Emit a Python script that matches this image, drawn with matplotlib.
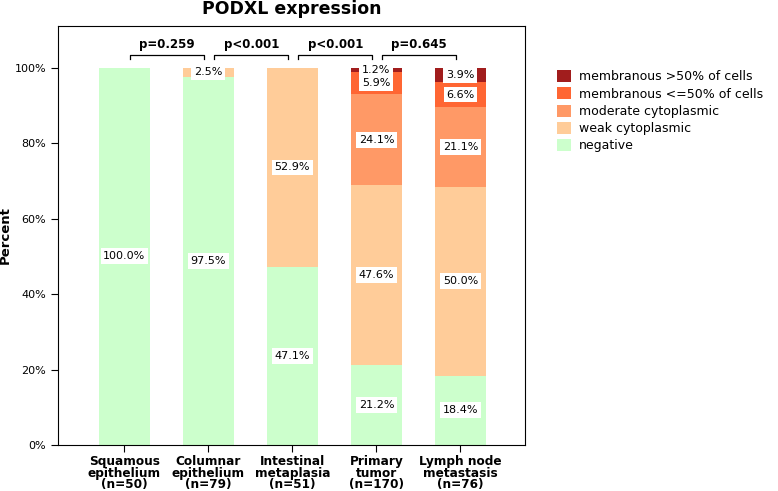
import matplotlib.pyplot as plt
import numpy as np

# categorias y porcentajes
grupos = ["Squamous\nepithelium\n(n=50)", "Columnar\nepithelium\n(n=79)",
          "Intestinal\nmetaplasia\n(n=51)", "Primary\ntumor\n(n=170)",
          "Lymph node\nmetastasis\n(n=76)"]
negativo = [100.0, 97.5, 47.1, 21.2, 18.4]
debil = [0.0, 2.5, 52.9, 47.6, 50.0]
moderado = [0.0, 0.0, 0.0, 24.1, 21.1]
memb_bajo = [0.0, 0.0, 0.0, 5.9, 6.6]
memb_alto = [0.0, 0.0, 0.0, 1.2, 3.9]
p_valores = ["p=0.259", "p<0.001", "p<0.001", "p=0.645"]

capas = [
    ("negative", negativo, "#ccffcc"),
    ("weak cytoplasmic", debil, "#ffcc99"),
    ("moderate cytoplasmic", moderado, "#ff9966"),
    ("membranous <=50% of cells", memb_bajo, "#ff6633"),
    ("membranous >50% of cells", memb_alto, "#a11d1d"),
]

fig = plt.figure(figsize=(7.78, 4.91), dpi=100)
ax = fig.add_axes([0.0746, 0.0937, 0.6004, 0.8533])

x = np.arange(len(grupos))
base = np.zeros(len(grupos))
for nombre, valores, color in capas:
    valores = np.array(valores)
    ax.bar(x, valores, width=0.6, bottom=base, color=color, label=nombre)
    for xi, v, b0 in zip(x, valores, base):
        if v > 0:
            ax.text(xi, b0 + v / 2, f"{v:.1f}%", ha="center", va="center",
                    fontsize=8, bbox=dict(facecolor="white", edgecolor="none", pad=2))
    base = base + valores

# corchetes con p-valores
for i, p in enumerate(p_valores):
    x0, x1 = i + 0.07, i + 0.95
    ax.plot([x0, x0, x1, x1], [102.3, 103.2, 103.2, 102.3], color="black", lw=0.9)
    ax.text((x0 + x1) / 2, 104.4, p, ha="center", va="bottom", fontsize=8.5, fontweight="bold")

ax.set_xlim(-0.79, 4.77)
ax.set_ylim(0, 111)
ax.set_yticks([0, 20, 40, 60, 80, 100])
ax.set_yticklabels([f"{t}%" for t in range(0, 101, 20)], fontsize=8)
ax.set_xticks(x)
ax.set_xticklabels(grupos, fontsize=8.7, fontweight="bold", linespacing=0.88)
ax.tick_params(direction="out", length=5)
ax.tick_params(axis="x", pad=2)
ax.set_ylabel("Percent", fontsize=9.5, fontweight="bold", labelpad=2)
ax.set_title("PODXL expression", fontsize=12.5, fontweight="bold", pad=9)

handles, labels = ax.get_legend_handles_labels()
fig.legend(handles[::-1], labels[::-1], loc="upper left", bbox_to_anchor=(0.702, 0.88),
           frameon=False, fontsize=9, handlelength=1.1, handleheight=1.1,
           handletextpad=0.6, labelspacing=0.32)

plt.savefig("out.png", dpi=100)
